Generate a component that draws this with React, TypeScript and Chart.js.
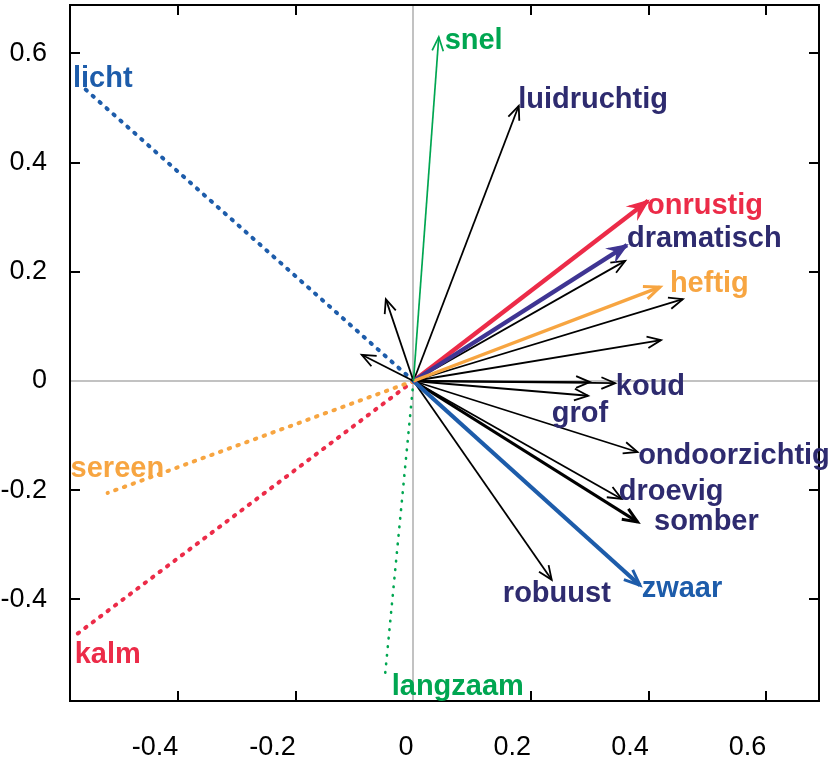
import React, { useEffect, useRef } from 'react';
import { Chart, registerables } from 'chart.js';

Chart.register(...registerables);

// ---------- data ----------
const xTicks = [-0.4, -0.2, 0, 0.2, 0.4, 0.6];
const yTicks = [-0.4, -0.2, 0, 0.2, 0.4, 0.6];
const xRange = [-0.584, 0.6895];
const yRange = [-0.586, 0.6886];

const arrowTerms = [
  '', '', 'luidruchtig', '', '', '', '', 'koud', 'grof', 'ondoorzichtig',
  'droevig', 'somber', 'robuust', 'snel', 'heftig', 'dramatisch', 'onrustig',
  'zwaar', 'licht', 'sereen', 'kalm', 'langzaam',
];
const arrowX = [
  -0.047, -0.088, 0.179, 0.36, 0.458, 0.421, 0.3, 0.343, 0.297, 0.381,
  0.354, 0.381, 0.235, 0.043, 0.419, 0.363, 0.399,
  0.385, -0.564, -0.52, -0.579, -0.049,
];
const arrowY = [
  0.15, 0.048, 0.504, 0.22, 0.15, 0.075, -0.002, -0.004, -0.027, -0.13,
  -0.216, -0.258, -0.364, 0.63, 0.172, 0.249, 0.33,
  -0.374, 0.54, -0.205, -0.469, -0.546,
];
const arrowKinds = [
  'black', 'black', 'black', 'black', 'black', 'black', 'black', 'black', 'black', 'black',
  'black', 'blackBold', 'black', 'green', 'orange', 'purple', 'red',
  'blue', 'blueDot', 'orangeDot', 'redDot', 'greenDot',
];

const labelTerms = [
  'snel', 'luidruchtig', 'onrustig', 'dramatisch', 'heftig', 'koud', 'grof',
  'ondoorzichtig', 'droevig', 'somber', 'zwaar', 'robuust', 'licht', 'sereen',
  'kalm', 'langzaam',
];
const labelX = [
  0.053, 0.178, 0.397, 0.363, 0.436, 0.344, 0.235,
  0.382, 0.349, 0.409, 0.388, 0.152, -0.579, -0.583,
  -0.576, -0.037,
];
const labelY = [
  0.608, 0.5, 0.306, 0.245, 0.163, -0.026, -0.075,
  -0.152, -0.218, -0.273, -0.396, -0.405, 0.538, -0.176,
  -0.516, -0.575,
];
const labelKinds = [
  'green', 'navy', 'red', 'navy', 'orange', 'navy', 'navy',
  'navy', 'navy', 'navy', 'blue', 'navy', 'blue', 'orange',
  'red', 'green',
];

// ---------- styles ----------
const COLORS: Record<string, string> = {
  black: '#000000',
  navy: '#2e2b6f',
  green: '#00a651',
  orange: '#f7a541',
  purple: '#3f3593',
  red: '#ec2b48',
  blue: '#1d5caa',
};

type ArrowStyle = {
  color: string;
  width: number;
  dash?: number[];
  cap?: CanvasLineCap;
  head: 'open' | 'filled' | 'none';
  headLen?: number;
  headAngle?: number;
};

const STYLES: Record<string, ArrowStyle> = {
  black: { color: COLORS.black, width: 1.8, head: 'open', headLen: 15, headAngle: 0.4 },
  blackBold: { color: COLORS.black, width: 3, head: 'open', headLen: 16, headAngle: 0.4 },
  green: { color: COLORS.green, width: 1.7, head: 'open', headLen: 15, headAngle: 0.38 },
  orange: { color: COLORS.orange, width: 3.4, head: 'open', headLen: 17, headAngle: 0.4 },
  purple: { color: COLORS.purple, width: 4.4, head: 'filled', headLen: 19, headAngle: 0.38 },
  red: { color: COLORS.red, width: 4.4, head: 'filled', headLen: 20, headAngle: 0.38 },
  blue: { color: COLORS.blue, width: 4.2, head: 'open', headLen: 17, headAngle: 0.4 },
  blueDot: { color: COLORS.blue, width: 4, dash: [1.5, 7.8], cap: 'round', head: 'none' },
  orangeDot: { color: COLORS.orange, width: 4, dash: [1.5, 7.8], cap: 'round', head: 'none' },
  redDot: { color: COLORS.red, width: 4, dash: [1.5, 7.8], cap: 'round', head: 'none' },
  greenDot: { color: COLORS.green, width: 2.6, dash: [0.6, 8], cap: 'round', head: 'none' },
};

const TICK_FONT = { family: '"Liberation Sans", Arial, Helvetica, sans-serif', size: 27 };
const LABEL_FONT = 'bold 29px "Liberation Sans", Arial, Helvetica, sans-serif';

const decorPlugin = {
  id: 'biplotDecor',
  afterDatasetsDraw(chart: any) {
    const ctx = chart.ctx as CanvasRenderingContext2D;
    chart.data.datasets.forEach((ds: any, i: number) => {
      const st: ArrowStyle = STYLES[ds.kind];
      if (!st || st.head === 'none') return;
      const meta = chart.getDatasetMeta(i);
      const p0 = meta.data[0];
      const p1 = meta.data[1];
      if (!p0 || !p1) return;
      const ang = Math.atan2(p1.y - p0.y, p1.x - p0.x);
      const L = st.headLen || 15;
      const a = st.headAngle || 0.4;
      const lx = p1.x - L * Math.cos(ang - a);
      const ly = p1.y - L * Math.sin(ang - a);
      const rx = p1.x - L * Math.cos(ang + a);
      const ry = p1.y - L * Math.sin(ang + a);
      ctx.save();
      ctx.setLineDash([]);
      ctx.strokeStyle = st.color;
      ctx.fillStyle = st.color;
      ctx.lineWidth = st.head === 'filled' ? 1.5 : Math.min(st.width, 3);
      ctx.lineJoin = 'miter';
      ctx.lineCap = 'butt';
      ctx.beginPath();
      if (st.head === 'filled') {
        ctx.moveTo(lx, ly);
        ctx.lineTo(p1.x, p1.y);
        ctx.lineTo(rx, ry);
        ctx.lineTo(p1.x - L * 0.6 * Math.cos(ang), p1.y - L * 0.6 * Math.sin(ang));
        ctx.closePath();
        ctx.fill();
        ctx.stroke();
      } else {
        ctx.moveTo(lx, ly);
        ctx.lineTo(p1.x, p1.y);
        ctx.lineTo(rx, ry);
        ctx.stroke();
      }
      ctx.restore();
    });
  },
  afterDraw(chart: any) {
    const ctx = chart.ctx as CanvasRenderingContext2D;
    const { left, right, top, bottom } = chart.chartArea;
    const xs = chart.scales.x;
    const ys = chart.scales.y;
    ctx.save();
    // frame
    ctx.strokeStyle = '#000';
    ctx.lineWidth = 2;
    ctx.setLineDash([]);
    ctx.strokeRect(left, top, right - left, bottom - top);
    // inward ticks on all four sides
    const TL = 10;
    ctx.beginPath();
    xs.ticks.forEach((t: any) => {
      if (t.value === 0) return;
      const px = Math.round(xs.getPixelForValue(t.value));
      ctx.moveTo(px, bottom);
      ctx.lineTo(px, bottom - TL);
      ctx.moveTo(px, top);
      ctx.lineTo(px, top + TL);
    });
    ys.ticks.forEach((t: any) => {
      if (t.value === 0) return;
      const py = Math.round(ys.getPixelForValue(t.value));
      ctx.moveTo(left, py);
      ctx.lineTo(left + TL, py);
      ctx.moveTo(right, py);
      ctx.lineTo(right - TL, py);
    });
    ctx.stroke();
    // term labels
    ctx.font = LABEL_FONT;
    ctx.textAlign = 'left';
    ctx.textBaseline = 'alphabetic';
    labelTerms.forEach((txt, i) => {
      ctx.fillStyle = COLORS[labelKinds[i]];
      ctx.fillText(txt, xs.getPixelForValue(labelX[i]), ys.getPixelForValue(labelY[i]));
    });
    ctx.restore();
  },
};

export default function App() {
  const ref = useRef<HTMLCanvasElement | null>(null);

  useEffect(() => {
    if (!ref.current) return;
    const datasets = arrowX.map((x, i) => {
      const st = STYLES[arrowKinds[i]];
      return {
        label: arrowTerms[i] || `arrow ${i}`,
        kind: arrowKinds[i],
        data: [
          { x: 0, y: 0 },
          { x, y: arrowY[i] },
        ],
        showLine: true,
        borderColor: st.color,
        backgroundColor: st.color,
        borderWidth: st.width,
        borderDash: st.dash || [],
        borderCapStyle: st.cap || 'butt',
        pointRadius: 0,
        pointHoverRadius: 0,
        fill: false,
        tension: 0,
        clip: false as any,
        order: st.head === 'none' ? 30 : arrowKinds[i].startsWith('black') ? 20 : 10,
      };
    });

    const gridColor = (c: any) => (c.tick && c.tick.value === 0 ? '#c2c2c2' : 'rgba(0,0,0,0)');

    const chart = new Chart(ref.current, {
      type: 'scatter',
      data: { datasets: datasets as any },
      options: {
        responsive: false,
        animation: false,
        devicePixelRatio: 1,
        events: [],
        layout: { padding: { left: 0, top: 5, right: 16, bottom: 0 } },
        plugins: {
          legend: { display: false },
          tooltip: { enabled: false },
        },
        scales: {
          x: {
            type: 'linear',
            position: 'bottom',
            min: xRange[0],
            max: xRange[1],
            afterBuildTicks: (s: any) => {
              s.ticks = xTicks.map((v) => ({ value: v }));
            },
            afterFit: (s: any) => {
              s.height = 62;
              s.paddingLeft = 0;
              s.paddingRight = 0;
              s.paddingTop = 0;
              s.paddingBottom = 0;
            },
            ticks: {
              font: TICK_FONT,
              color: '#000',
              align: 'end',
              padding: 30,
              maxRotation: 0,
              autoSkip: false,
              callback: (v: any) => String(v),
            },
            grid: { color: gridColor, lineWidth: 2, drawTicks: false },
            border: { display: false },
          },
          y: {
            type: 'linear',
            position: 'left',
            min: yRange[0],
            max: yRange[1],
            afterBuildTicks: (s: any) => {
              s.ticks = yTicks.map((v) => ({ value: v }));
            },
            afterFit: (s: any) => {
              s.width = 70;
              s.paddingLeft = 0;
              s.paddingRight = 0;
              s.paddingTop = 0;
              s.paddingBottom = 0;
            },
            ticks: {
              font: TICK_FONT,
              color: '#000',
              padding: 23,
              autoSkip: false,
              callback: (v: any) => String(v),
            },
            grid: { color: gridColor, lineWidth: 2, drawTicks: false },
            border: { display: false },
          },
        },
      },
      plugins: [decorPlugin],
    });
    return () => chart.destroy();
  }, []);

  return (
    <div style={{ position: 'absolute', left: 0, top: 0, width: 835, height: 763, background: '#fff' }}>
      <canvas ref={ref} width={835} height={763} style={{ display: 'block', width: 835, height: 763 }} />
    </div>
  );
}
